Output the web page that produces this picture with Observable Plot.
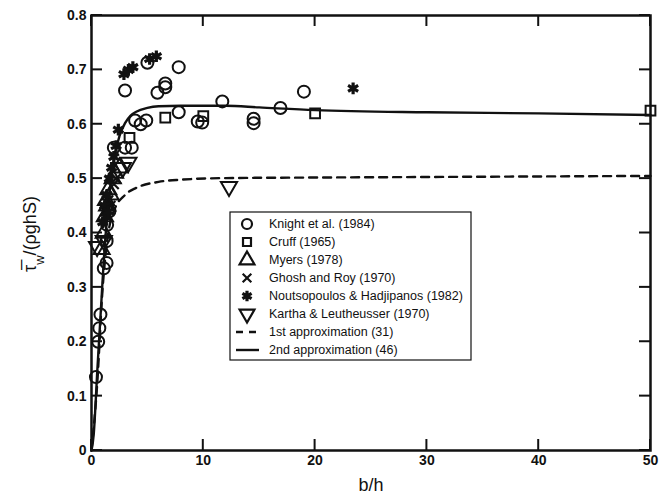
<!DOCTYPE html>
<html><head><meta charset="utf-8">
<script src="https://cdn.jsdelivr.net/npm/d3@7"></script>
<script src="https://cdn.jsdelivr.net/npm/@observablehq/plot@0.6"></script>
<style>body{margin:0;background:#fff}</style>
</head><body><div id="chart"></div>
<script>
const xTicks = [0, 10, 20, 30, 40, 50];
const yTicks = [0, 0.1, 0.2, 0.3, 0.4, 0.5, 0.6, 0.7, 0.8];

const knight = [[0.4,0.135],[0.6,0.2],[0.7,0.225],[0.8,0.25],[1.1,0.335],[1.35,0.345],[1.35,0.385],[1.4,0.415],[1.6,0.44],[2.0,0.557],[3.0,0.557],[3.6,0.557],[3.9,0.607],[4.4,0.6],[4.9,0.607],[3.0,0.662],[5.9,0.658],[6.6,0.675],[6.6,0.668],[5.0,0.713],[7.8,0.705],[7.8,0.622],[9.5,0.605],[9.9,0.603],[11.7,0.642],[14.5,0.61],[14.5,0.602],[16.9,0.63],[19.0,0.66]];
const cruff = [[3.4,0.575],[6.6,0.612],[10,0.615],[20,0.62],[50,0.625]];
const myers = [[0.9,0.37],[1.1,0.4],[1.2,0.43],[1.3,0.46],[1.4,0.45],[1.5,0.48],[1.7,0.47],[1.9,0.5],[2.1,0.51],[2.5,0.52]];
const ghosh = [[1.2,0.44],[1.5,0.46],[1.7,0.45],[2.0,0.49],[2.2,0.5]];
const nout = [[1.0,0.42],[1.2,0.45],[1.3,0.43],[1.4,0.47],[1.5,0.44],[1.6,0.5],[1.8,0.52],[2.0,0.54],[2.2,0.56],[2.4,0.59],[2.9,0.692],[3.3,0.7],[3.7,0.705],[5.2,0.72],[5.8,0.725],[23.4,0.666]];
const kartha = [[0.5,0.375],[1.1,0.386],[2.8,0.52],[3.3,0.53],[12.3,0.485]];
const approx1 = [[0,0],[0.5,0.12],[1,0.3],[1.5,0.4],[2,0.44],[3,0.47],[4,0.483],[6,0.494],[8,0.498],[12,0.501],[20,0.502],[30,0.503],[40,0.504],[50,0.505]];
const approx2 = [[0,0],[0.2,0.03],[0.4,0.1],[0.5,0.14],[0.7,0.21],[0.9,0.28],[1.1,0.35],[1.4,0.43],[1.7,0.49],[2.0,0.535],[2.5,0.578],[3.0,0.602],[3.5,0.616],[4,0.623],[5,0.63],[6,0.633],[8,0.634],[12,0.634],[15,0.631],[20,0.626],[30,0.622],[40,0.62],[50,0.617]];

const legendLabels = ["Knight et al. (1984)","Cruff (1965)","Myers (1978)","Ghosh and Roy (1970)","Noutsopoulos & Hadjipanos (1982)","Kartha & Leutheusser (1970)","1st approximation (31)","2nd approximation (46)"];

const X = d => d[0], Y = d => d[1];
const ink = "#111";
const FONT = "'Liberation Sans', Arial, sans-serif";
const chart = Plot.plot({
  width: 667, height: 497,
  marginLeft: 91, marginRight: 17, marginTop: 15, marginBottom: 47,
  x: {domain: [0, 50]},
  y: {domain: [0, 0.8]},
  style: {fontFamily: FONT, fontSize: "14px", fontWeight: "bold", color: ink, background: "#fff"},
  marks: [
    Plot.axisX({ticks: xTicks, tickSize: 0, tickPadding: 5, label: null}),
    Plot.axisY({ticks: yTicks, tickSize: 0, tickPadding: 5, label: null, tickFormat: d => d === 0 ? "0" : d3.format(".1f")(d)}),
    Plot.frame({stroke: ink, strokeWidth: 2.5}),
    Plot.line(approx1, {x: X, y: Y, curve: "monotone-x", stroke: ink, strokeWidth: 2.4, strokeDasharray: "8,6"}),
    Plot.line(approx2, {x: X, y: Y, curve: "monotone-x", stroke: ink, strokeWidth: 2.4}),
    Plot.dot(knight, {x: X, y: Y, r: 6, symbol: "circle", stroke: ink, strokeWidth: 2, fill: "none"}),
    Plot.dot(cruff, {x: X, y: Y, r: 5.5, symbol: "square", stroke: ink, strokeWidth: 2, fill: "none"}),
    Plot.dot(myers, {x: X, y: Y, r: 6, symbol: "triangle", stroke: ink, strokeWidth: 2, fill: "none"}),
    Plot.dot(ghosh, {x: X, y: Y, r: 4.5, symbol: "times", stroke: ink, strokeWidth: 2.2}),
    Plot.dot(nout, {x: X, y: Y, r: 5.5, symbol: "asterisk", stroke: ink, strokeWidth: 3.2}),
    Plot.dot(kartha, {x: X, y: Y, r: 6, symbol: "triangle", rotate: 180, stroke: ink, strokeWidth: 2, fill: "none"})
  ]
});
document.getElementById("chart").appendChild(chart);

const svg = d3.select(chart);
const sx = chart.scale("x"), sy = chart.scale("y");
const [x0, x1] = sx.range, [y0, y1] = sy.range;
const TL = 11;
const tk = svg.append("g").attr("stroke", ink).attr("stroke-width", 2);
xTicks.forEach(v => {
  const px = sx.apply(v);
  tk.append("line").attr("x1", px).attr("x2", px).attr("y1", y0).attr("y2", y0 - TL);
  tk.append("line").attr("x1", px).attr("x2", px).attr("y1", y1).attr("y2", y1 + TL);
});
yTicks.forEach(v => {
  const py = sy.apply(v);
  tk.append("line").attr("x1", x0).attr("x2", x0 + TL).attr("y1", py).attr("y2", py);
  tk.append("line").attr("x1", x1).attr("x2", x1 - TL).attr("y1", py).attr("y2", py);
});

svg.append("text").attr("x", 371).attr("y", 491).attr("text-anchor", "middle")
  .attr("font-family", FONT).attr("font-size", 18).attr("font-weight", "normal").attr("fill", ink).text("b/h");

const yl = svg.append("text").attr("transform", "translate(36,234) rotate(-90)").attr("text-anchor", "middle")
  .attr("font-family", FONT).attr("font-size", 18).attr("font-weight", "normal").attr("fill", ink);
yl.append("tspan").text("\u03C4\u0305");
yl.append("tspan").attr("baseline-shift", "sub").attr("font-size", 13).text("w");
yl.append("tspan").text("/(\u03C1ghS)");

const lg = svg.append("g").attr("font-family", FONT).attr("font-size", 12.5).attr("font-weight", "normal").attr("fill", ink).attr("text-anchor", "start");
lg.append("rect").attr("x", 230).attr("y", 212).attr("width", 241).attr("height", 148).attr("fill", "#fff").attr("stroke", ink).attr("stroke-width", 1.2);
const syms = [
  {t: d3.symbolCircle, r: 5, sw: 2.2, rot: 0},
  {t: d3.symbolSquare, r: 4.5, sw: 2.2, rot: 0},
  {t: d3.symbolTriangle, r: 5.5, sw: 2.2, rot: 0},
  {t: d3.symbolTimes, r: 4, sw: 2.2, rot: 0},
  {t: d3.symbolAsterisk, r: 5, sw: 3.2, rot: 0},
  {t: d3.symbolTriangle, r: 5.5, sw: 2.2, rot: 180}
];
legendLabels.forEach((lab, i) => {
  const cy = 224 + i * 18;
  if (i < 6) {
    const s = syms[i];
    lg.append("path").attr("d", d3.symbol(s.t, Math.PI * s.r * s.r)())
      .attr("transform", `translate(247,${cy}) rotate(${s.rot})`)
      .attr("fill", "none").attr("stroke", ink).attr("stroke-width", s.sw);
  } else {
    lg.append("line").attr("x1", 236).attr("x2", 259).attr("y1", cy).attr("y2", cy)
      .attr("stroke", ink).attr("stroke-width", 2.4).attr("stroke-dasharray", i === 6 ? "7,6" : null);
  }
  lg.append("text").attr("x", 269).attr("y", cy).attr("dy", "0.35em").text(lab);
});
</script>
</body></html>
